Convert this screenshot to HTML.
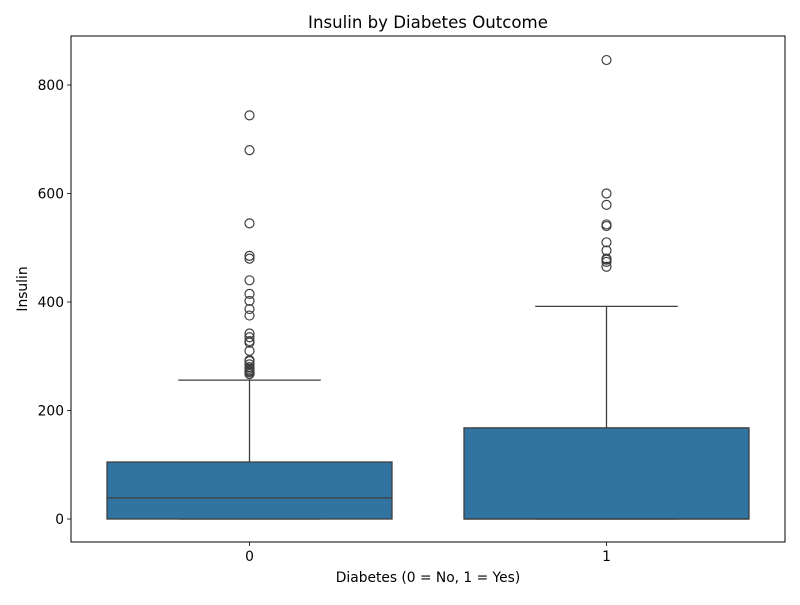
<!DOCTYPE html>
<html><head><meta charset="utf-8"><style>
body{margin:0;background:#fff;font-family:"Liberation Sans","DejaVu Sans",sans-serif}
svg text{font-family:"DejaVu Sans","Liberation Sans",sans-serif;fill:#000}
</style></head><body>
<svg id="chart" width="800" height="600" xmlns="http://www.w3.org/2000/svg"></svg>
<script>
const categories = ["0","1"];
const q1 = [0, 0];
const medians = [39, 0];
const q3 = [105, 168];
const whiskerLow = [0, 0];
const whiskerHigh = [256, 392];
const outliers0 = [744,680,545,485,480,440,415,402,387,375,342,335,328,325,310,293,291,285,280,277,274,272,270,267];
const outliers1 = [846,600,579,543,540,510,495,480,478,474,465];
const outliers = [outliers0, outliers1];
const yTicks = [0,200,400,600,800];

const svg = document.getElementById('chart');
const NS = 'http://www.w3.org/2000/svg';
const L=71,R=785,T=36,B=542;
const FS=13.8, TFS=16.6;
const y = v => 519 - v*0.5425;
const x = i => L + (R-L)*(i+0.5)/categories.length;
const bw = 285;
function mk(tag, attrs, parent){const e=document.createElementNS(NS,tag);for(const k in attrs)e.setAttribute(k,attrs[k]);(parent||svg).appendChild(e);return e;}

categories.forEach((c,i)=>{
  const g=mk('g',{});
  
  
  const cx=x(i);
  const wl=mk('line',{x1:cx,x2:cx,y1:y(q3[i]),y2:y(whiskerHigh[i]),stroke:'#3f3f3f','stroke-width':1.3},g);
  
  
  const cap=mk('line',{x1:cx-bw/4,x2:cx+bw/4,y1:y(whiskerHigh[i]),y2:y(whiskerHigh[i]),stroke:'#3f3f3f','stroke-width':1.3},g);
  
  
  const cap2=mk('line',{x1:cx-bw/4,x2:cx+bw/4,y1:y(whiskerLow[i]),y2:y(whiskerLow[i]),stroke:'#3f3f3f','stroke-width':1.3},g);
  
  
  const box=mk('rect',{x:cx-bw/2,y:y(q3[i]),width:bw,height:Math.max(0,y(q1[i])-y(q3[i])),fill:'#3274a1',stroke:'#3f3f3f','stroke-width':1.3},g);
  
  
  const med=mk('line',{x1:cx-bw/2,x2:cx+bw/2,y1:y(medians[i]),y2:y(medians[i]),stroke:'#3f3f3f','stroke-width':1.3},g);
  
  
  outliers[i].forEach(v=>{
    const o=mk('circle',{cx:cx,cy:y(v),r:4.5,fill:'none',stroke:'#3f3f3f','stroke-width':1.2},g);
    
    
  });
  const tk=mk('line',{x1:cx,x2:cx,y1:B,y2:B+4,stroke:'#000','stroke-width':0.8});
  
  
  const tl=mk('text',{x:cx,y:B+19,'text-anchor':'middle','font-size':FS});
  tl.textContent=c;
  
  
});
yTicks.forEach(v=>{
  const tk=mk('line',{x1:L-4,x2:L,y1:y(v),y2:y(v),stroke:'#000','stroke-width':0.8});
  
  
  const tl=mk('text',{x:L-7,y:y(v)+5,'text-anchor':'end','font-size':FS});
  tl.textContent=v;
  
  
});
const frame=mk('rect',{x:L,y:T,width:R-L,height:B-T,fill:'none',stroke:'#000','stroke-width':1});


const title=mk('text',{x:(L+R)/2,y:28,'text-anchor':'middle','font-size':TFS});
title.textContent='Insulin by Diabetes Outcome';


const xt=mk('text',{x:(L+R)/2,y:582,'text-anchor':'middle','font-size':FS});
xt.textContent='Diabetes (0 = No, 1 = Yes)';


const yt=mk('text',{x:27,y:(T+B)/2,'text-anchor':'middle','font-size':FS,transform:'rotate(-90 27 '+((T+B)/2)+')'});
yt.textContent='Insulin';


</script>
</body></html>
